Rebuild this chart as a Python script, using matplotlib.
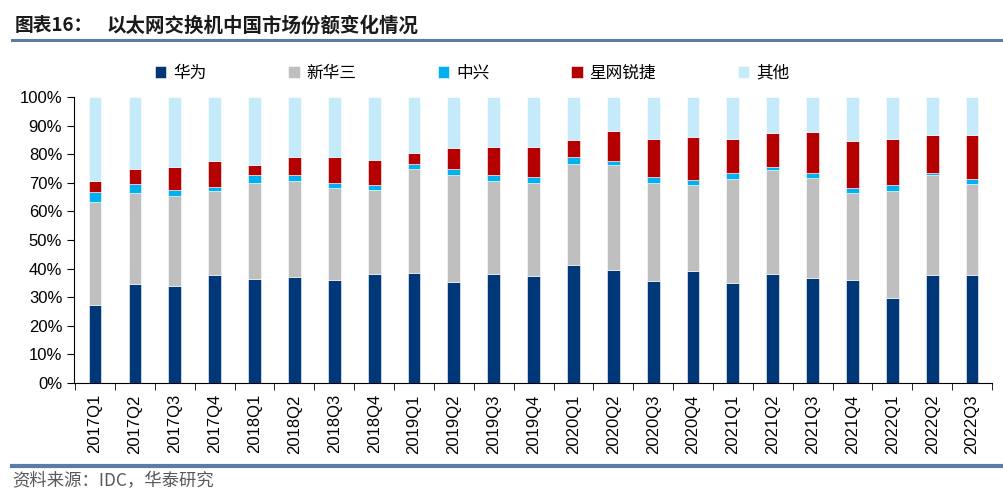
import matplotlib
matplotlib.use('Agg')
import matplotlib.pyplot as plt
from matplotlib.ticker import FuncFormatter, FixedLocator
import numpy as np

plt.rcParams['font.family'] = ['Liberation Sans', 'Noto Sans CJK SC']

quarters = ['2017Q1', '2017Q2', '2017Q3', '2017Q4', '2018Q1', '2018Q2', '2018Q3', '2018Q4',
            '2019Q1', '2019Q2', '2019Q3', '2019Q4', '2020Q1', '2020Q2', '2020Q3', '2020Q4',
            '2021Q1', '2021Q2', '2021Q3', '2021Q4', '2022Q1', '2022Q2', '2022Q3']

# shares in %
huawei = [27.4, 34.6, 33.8, 37.6, 36.3, 36.9, 35.9, 38.1, 38.5, 35.3, 38.0, 37.3,
          41.1, 39.5, 35.5, 39.0, 35.0, 38.1, 36.8, 36.0, 29.6, 37.8, 37.6]
h3c = [35.9, 31.9, 31.7, 29.6, 33.8, 33.8, 32.4, 29.5, 36.2, 37.3, 32.5, 32.5,
       35.6, 36.8, 34.6, 30.4, 36.5, 36.4, 35.0, 30.5, 37.6, 34.8, 32.1]
zte = [3.6, 3.2, 2.1, 1.5, 2.5, 1.9, 1.8, 1.7, 1.9, 2.3, 2.1, 2.1,
       2.5, 1.5, 1.9, 1.7, 1.9, 1.0, 1.5, 1.8, 1.9, 0.9, 1.6]
ruijie = [3.6, 5.1, 8.1, 9.1, 3.5, 6.4, 8.8, 8.7, 3.9, 7.3, 9.9, 10.8,
          5.6, 10.2, 13.3, 14.8, 11.8, 11.8, 14.3, 16.3, 16.3, 13.1, 15.3]
others = [100 - a - b - c - d for a, b, c, d in zip(huawei, h3c, zte, ruijie)]

names = ['华为', '新华三', '中兴', '星网锐捷', '其他']
colors = ['#003778', '#BFBFBF', '#00B0F0', '#B40000', '#C5EBFA']
series = [huawei, h3c, zte, ruijie, others]

fig = plt.figure(figsize=(10.04, 4.92), dpi=100)

# title and frame lines
fig.text(0.015, 0.948, '图表16：', fontsize=13.5, fontweight='bold', color='#1a1a1a',
         va='center', ha='left', family=['Noto Sans CJK SC'])
fig.text(0.106, 0.948, '以太网交换机中国市场份额变化情况', fontsize=14, fontweight='bold',
         color='#1a1a1a', va='center', ha='left', family=['Noto Sans CJK SC'])
fig.add_artist(plt.Line2D([0.012, 1.0], [0.918, 0.918], color='#5B7BA8', linewidth=2.2))
fig.add_artist(plt.Line2D([0.012, 1.0], [0.052, 0.052], color='#5B7BA8', linewidth=3.0))
fig.text(0.012, 0.022, '资料来源：IDC，华泰研究', fontsize=12.5, color='#595959',
         va='center', ha='left', family=['Noto Sans CJK SC'])

ax = fig.add_axes([0.0737, 0.2215, 0.9143, 0.5813])
x = np.arange(len(quarters))
bottom = np.zeros(len(quarters))
for vals, c, n in zip(series, colors, names):
    ax.bar(x, vals, width=0.32, bottom=bottom, color=c, label=n,
           edgecolor='white', linewidth=0.4)
    bottom += np.array(vals)

ax.set_ylim(0, 100)
ax.set_xlim(-0.53, 22.5)
ax.set_yticks(np.arange(0, 101, 10))
ax.yaxis.set_major_formatter(FuncFormatter(lambda v, p: f'{int(v)}%'))
ax.set_xticks(x)
ax.set_xticklabels(quarters, rotation=90, fontsize=12)
ax.xaxis.set_minor_locator(FixedLocator(np.arange(-0.5, 23, 1)))
ax.tick_params(axis='x', which='major', length=0, pad=8)
ax.tick_params(axis='x', which='minor', length=5, direction='out')
ax.tick_params(axis='y', labelsize=12, length=5, direction='out')
for s in ['top', 'right']:
    ax.spines[s].set_visible(False)

leg = fig.legend(loc='center', bbox_to_anchor=(0.47, 0.852), ncol=5, frameon=False,
                 fontsize=12, handlelength=0.7, handleheight=0.7, columnspacing=4.9,
                 handletextpad=0.4)

fig.savefig('out.png', dpi=100)
